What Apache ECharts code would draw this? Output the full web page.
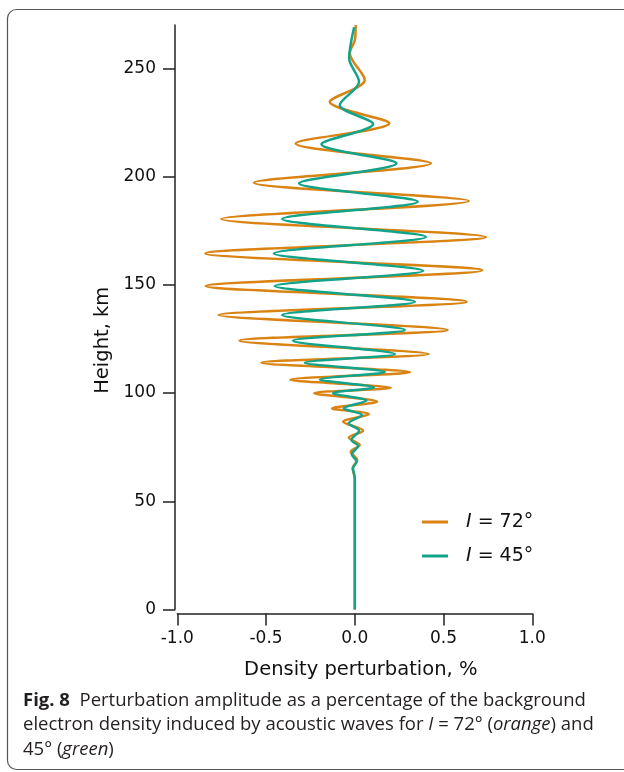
<!DOCTYPE html>
<html>
<head>
<meta charset="utf-8">
<script src="https://cdn.jsdelivr.net/npm/echarts@6/dist/echarts.min.js"></script>
<style>
  html, body { margin: 0; padding: 0; background: #fff; }
  #chart { width: 624px; height: 772px; }
</style>
</head>
<body>
<div id="chart"></div>
<script>
// heights (km) of the turning points, with the perturbation (%) there
var orangeHeight = [0, 60.6, 65.2, 69.1, 72.9, 76.0, 79.4, 82.6, 86.7, 90.2, 92.9, 96.0, 99.9, 102.4,
  106.1, 109.6, 114.0, 118.0, 124.2, 129.1, 136.0, 142.2, 149.4, 156.7, 164.5, 172.1, 180.4,
  188.7, 197.1, 206.1, 215.3, 224.6, 234.5, 244.6, 257, 263, 270];
var orangeValue = [0, 0, -0.013, 0.013, -0.023, 0.028, -0.034, 0.047, -0.066, 0.079, -0.128, 0.126, -0.229, 0.203,
  -0.363, 0.310, -0.526, 0.417, -0.650, 0.523, -0.767, 0.630, -0.840, 0.718, -0.842, 0.739, -0.752,
  0.643, -0.568, 0.429, -0.333, 0.194, -0.141, 0.056, -0.028, 0.0, 0.005];

var greenHeight = [0, 60.6, 65.2, 68.3, 71.7, 75.5, 78.3, 82.6, 86.0, 89.8, 92.9, 96.5, 99.9, 102.6,
  106.2, 109.7, 114.0, 118.0, 124.2, 129.1, 136.0, 142.2, 149.4, 156.5, 164.5, 172.1, 180.4,
  188.4, 196.9, 206.1, 214.9, 224.3, 233.0, 243.8, 254.6, 269];
var greenValue = [0, 0, -0.010, 0.010, -0.017, 0.019, -0.019, 0.024, -0.034, 0.041, -0.062, 0.066, -0.122, 0.107,
  -0.197, 0.169, -0.282, 0.226, -0.348, 0.282, -0.410, 0.338, -0.451, 0.385, -0.455, 0.400, -0.408,
  0.354, -0.314, 0.235, -0.188, 0.103, -0.085, 0.024, -0.032, -0.004];

var seriesNames = ['I = 72°', 'I = 45°'];
var xTicks = [-1.0, -0.5, 0.0, 0.5, 1.0];
var yTicks = [0, 50, 100, 150, 200, 250];

(function () {
  var myChart = echarts.init(document.getElementById('chart'));

  function pairs(vals, hs) {
    var out = [];
    for (var i = 0; i < vals.length; i++) out.push([vals[i], hs[i]]);
    return out;
  }

  var axisFont = 'DejaVu Sans';
  var capFont = 'Open Sans';
  var capSize = 18.5;

  var option = {
    animation: false,
    backgroundColor: '#fff',
    color: ['#DA8312', '#12A48B'],
    grid: { left: 177.3, right: 91.7, top: 25, bottom: 162.5 },
    legend: {
      orient: 'vertical',
      left: 417,
      top: 505,
      itemWidth: 26,
      itemHeight: 3,
      itemGap: 10,
      icon: 'rect',
      data: seriesNames,
      formatter: function (name) {
        return '{i|I}' + name.slice(1);
      },
      textStyle: {
        fontFamily: axisFont,
        fontSize: 19,
        color: '#111',
        lineHeight: 24,
        padding: [0, 0, 0, 13],
        rich: {
          i: { fontFamily: axisFont, fontSize: 19, fontStyle: 'italic', color: '#111' }
        }
      }
    },
    xAxis: {
      type: 'value',
      min: -1,
      max: 1,
      interval: 0.5,
      offset: 4,
      name: 'Density perturbation, %',
      nameLocation: 'middle',
      nameGap: 46,
      nameTextStyle: { fontFamily: axisFont, fontSize: 19.5, color: '#111', padding: [0, 0, 0, 12] },
      axisLine: { onZero: false, lineStyle: { color: '#222', width: 1.5 } },
      axisTick: { length: 12, customValues: xTicks, lineStyle: { color: '#222', width: 1.5 } },
      axisLabel: {
        fontFamily: axisFont, fontSize: 17, color: '#111', margin: 17, customValues: xTicks,
        formatter: function (v) { return v.toFixed(1); }
      },
      splitLine: { show: false }
    },
    yAxis: {
      type: 'value',
      min: 0,
      max: 270,
      offset: 2.3,
      name: 'Height, km',
      nameLocation: 'middle',
      nameRotate: 90,
      nameGap: 55,
      nameTextStyle: { fontFamily: axisFont, fontSize: 19.5, color: '#111', padding: [0, 46, 0, 0] },
      axisLine: { show: true, onZero: false, lineStyle: { color: '#222', width: 1.5 } },
      axisTick: { show: true, length: 12, customValues: yTicks, lineStyle: { color: '#222', width: 1.5 } },
      axisLabel: { fontFamily: axisFont, fontSize: 17, color: '#111', margin: 19, customValues: yTicks },
      splitLine: { show: false }
    },
    series: [
      {
        name: seriesNames[0],
        type: 'line',
        symbol: 'none',
        smooth: 0.3,
        lineStyle: { width: 2.5 },
        data: pairs(orangeValue, orangeHeight)
      },
      {
        name: seriesNames[1],
        type: 'line',
        symbol: 'none',
        smooth: 0.3,
        lineStyle: { width: 2.5 },
        data: pairs(greenValue, greenHeight)
      }
    ],
    graphic: [
      {
        type: 'rect',
        shape: { x: 7.5, y: 9.5, width: 660, height: 760, r: 9 },
        style: { fill: 'none', stroke: '#555', lineWidth: 1.2 },
        silent: true
      },
      {
        type: 'text',
        left: 23,
        top: 688,
        style: {
          text: '{b|Fig. 8}  Perturbation amplitude as a percentage of the background\n' +
                'electron density induced by acoustic waves for {i|I} = 72° ({i|orange}) and\n' +
                '45° ({i|green})',
          fontFamily: capFont,
          fontSize: capSize,
          lineHeight: 24.5,
          fill: '#231f20',
          rich: {
            b: { fontFamily: capFont, fontSize: capSize, fontWeight: 'bold', fill: '#231f20' },
            i: { fontFamily: capFont, fontSize: capSize, fontStyle: 'italic', fill: '#231f20' }
          }
        }
      }
    ]
  };

  myChart.setOption(option);
  window.addEventListener('resize', function () {
    myChart.resize();
  });
})();
</script>
</body>
</html>
